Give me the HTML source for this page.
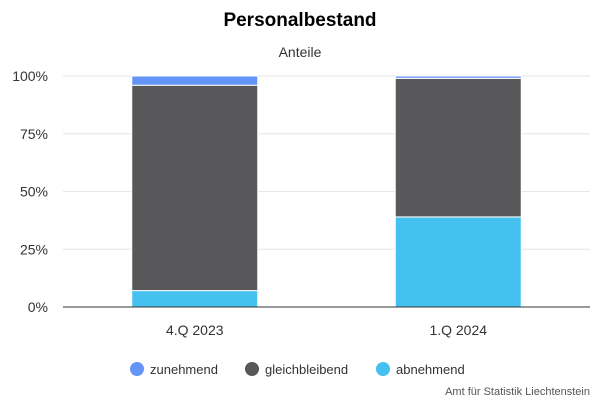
<!DOCTYPE html>
<html><head><meta charset="utf-8"><style>
body{margin:0;background:#fff;font-family:"Liberation Sans",sans-serif}
svg text{font-family:"Liberation Sans",sans-serif}
</style></head><body>
<svg width="600" height="400">
<text x="300" y="26" text-anchor="middle" font-size="19" font-weight="bold" fill="#000">Personalbestand</text>
<text x="300" y="57" text-anchor="middle" font-size="14" fill="#333">Anteile</text>
<g id="grid"></g><g id="bars"></g><g id="axes"></g>
<g>
<g><circle cx="137" cy="369" r="7" fill="#6394f8"/><text x="150" y="374" font-size="13" fill="#333">zunehmend</text></g>
<g><circle cx="252" cy="369" r="7" fill="#58585a"/><text x="265" y="374" font-size="13" fill="#333">gleichbleibend</text></g>
<g><circle cx="383" cy="369" r="7" fill="#45c1f0"/><text x="396" y="374" font-size="13" fill="#333">abnehmend</text></g>
</g>
<text x="590" y="395" text-anchor="end" font-size="11" fill="#555">Amt für Statistik Liechtenstein</text>
</svg>
<script>
const categories=["4.Q 2023","1.Q 2024"];
const abnehmend=[7.1,39];
const gleichbleibend=[88.9,60];
const zunehmend=[4,1];
const ticks=[0,25,50,75,100];
const NS="http://www.w3.org/2000/svg";
const x0=63,x1=590,y0=307,y1=76;
const y=v=>y0-(v/100)*(y0-y1);
const band=(x1-x0)/categories.length;
const xc=i=>x0+band*(i+0.5);
function mk(t,a,p){const e=document.createElementNS(NS,t);for(const k in a)e.setAttribute(k,a[k]);p.appendChild(e);return e;}
const grid=document.getElementById('grid'),bars=document.getElementById('bars'),axes=document.getElementById('axes');
ticks.forEach(t=>{
 const l=mk('line',{x1:x0,x2:x1,y1:y(t),y2:y(t),stroke:t?'#e6e6e6':'#333','stroke-width':1},t?grid:axes);
 
 
 const tx=mk('text',{x:48,y:y(t)+5,'text-anchor':'end','font-size':14,fill:'#333'},axes);
 tx.textContent=t+'%';
 
 
});
const series=[["abnehmend",abnehmend,"#45c1f0"],["gleichbleibend",gleichbleibend,"#58585a"],["zunehmend",zunehmend,"#6394f8"]];
categories.forEach((c,i)=>{
 let base=0;const w=126;
 series.forEach(([n,arr,col])=>{
  const v=arr[i];
  const r=mk('rect',{x:xc(i)-w/2,y:y(base+v),width:w,height:y(base)-y(base+v),fill:col,stroke:'#fff','stroke-width':1},bars);
  
  
  base+=v;
 });
 const tx=mk('text',{x:xc(i),y:335,'text-anchor':'middle','font-size':14,fill:'#333'},axes);
 tx.textContent=c;
 
 
});
</script>
</body></html>
